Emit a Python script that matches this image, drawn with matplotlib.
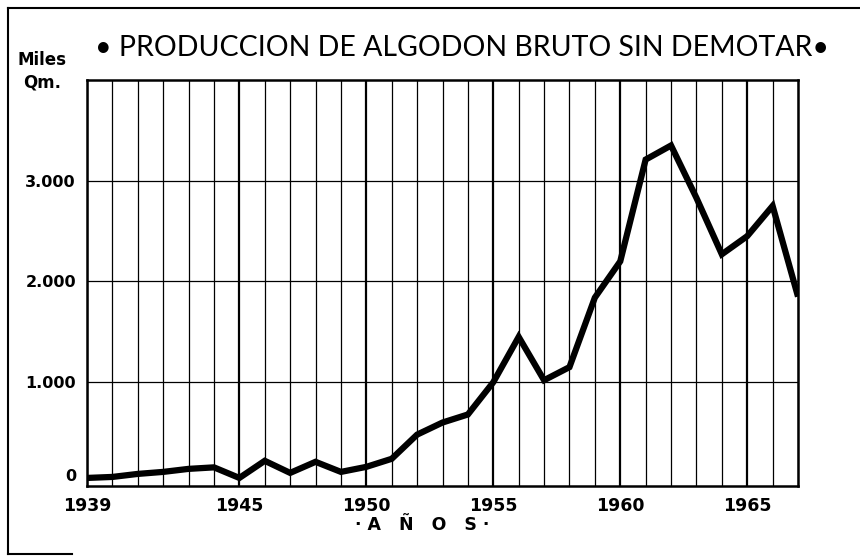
import matplotlib
matplotlib.use("Agg")
import matplotlib.pyplot as plt
from matplotlib.lines import Line2D
import matplotlib.transforms as mtransforms

years = list(range(1939, 1968))
production = [50, 60, 90, 110, 140, 155, 50, 220, 100, 210, 110, 160, 240, 480,
              600, 680, 1000, 1450, 1020, 1150, 1840, 2200, 3210, 3350, 2830,
              2270, 2450, 2750, 1850]
x_ticks = [1939, 1945, 1950, 1955, 1960, 1965]
y_ticks = [0, 1000, 2000, 3000]
y_tick_labels = ["0", "1.000", "2.000", "3.000"]
title = "• PRODUCCION DE ALGODON BRUTO SIN DEMOTAR•"
x_label = "· A   Ñ   O   S ·"
y_unit = "Miles\nQm."

fig = plt.figure(figsize=(8.6, 5.58), dpi=100)
ax = fig.add_axes([87/860, 1-486/558, (798-87)/860, (486-80)/558])

ax.set_xlim(1939, 1967)
ax.set_ylim(-30, 4000)

# grid
for yr in years:
    heavy = yr in x_ticks[1:]
    ax.axvline(yr, color="black", lw=1.6 if heavy else 0.9, zorder=1)
for yv in [1000, 2000, 3000]:
    ax.axhline(yv, color="black", lw=0.9, zorder=1)

ax.plot(years, production, color="black", lw=4.5, solid_joinstyle="miter",
        solid_capstyle="butt", zorder=3)

for s in ax.spines.values():
    s.set_linewidth(1.8)

ax.set_xticks(x_ticks)
ax.set_xticklabels([str(v) for v in x_ticks], fontsize=12.5, fontweight="bold",
                   family="DejaVu Sans")
ax.set_yticks(y_ticks)
ax.set_yticklabels(y_tick_labels, fontsize=11.5, fontweight="bold", family="DejaVu Sans")
ax.tick_params(length=0, pad=8)
lbl0 = ax.get_yticklabels()[0]
lbl0.set_transform(lbl0.get_transform() + mtransforms.ScaledTranslation(0, 8/100, fig.dpi_scale_trans))

fig.text(95/860, 1-48/558, title, fontsize=20.5, family="Lato", va="center", ha="left")
fig.text(42/860, 1-71/558, y_unit, fontsize=12, fontweight="bold", family="DejaVu Sans",
         ha="center", va="center", linespacing=1.3)
fig.text(422/860, 1-525/558, x_label, fontsize=12.5, fontweight="bold", family="DejaVu Sans",
         ha="center", va="center")

# partial outer frame (left, top, short bottom piece)
def fline(xs, ys):
    fig.add_artist(Line2D([x/860 for x in xs], [1-y/558 for y in ys],
                          transform=fig.transFigure, color="black", lw=1.5))
fline([8, 8], [8, 554])
fline([8, 860], [8, 8])
fline([8, 72], [554, 554])

fig.savefig("out.png", dpi=100)
